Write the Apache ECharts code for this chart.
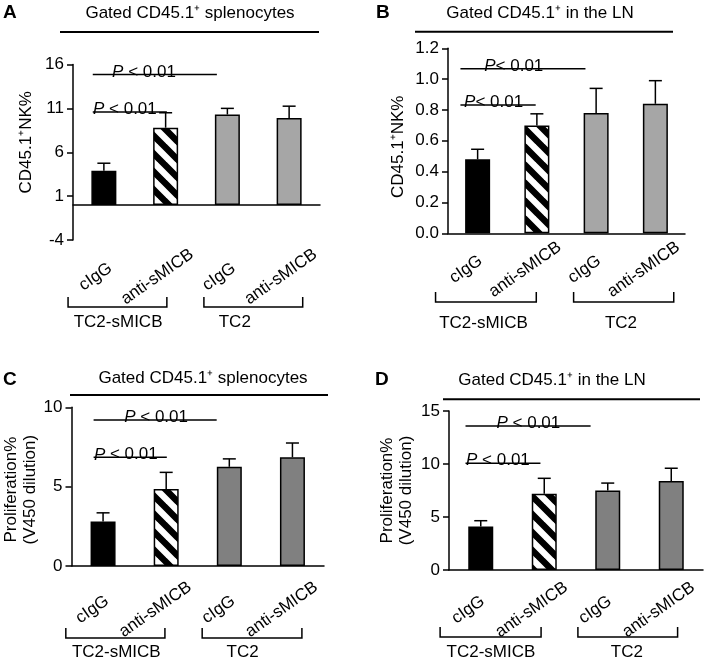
<!DOCTYPE html>
<html><head><meta charset="utf-8">
<script src="https://cdn.jsdelivr.net/npm/echarts@6/dist/echarts.min.js"></script>
<style>html,body{margin:0;padding:0;background:#fff}#c{width:705px;height:661px}</style>
</head><body><div id="c"></div>
<script>
// ---------------- DATA ----------------
const categories = ['cIgG', 'anti-sMICB', 'cIgG', 'anti-sMICB'];
const groupLabels = ['TC2-sMICB', 'TC2'];
const panelLetters = ['A', 'B', 'C', 'D'];
const panelTitles = ['Gated CD45.1⁺ splenocytes', 'Gated CD45.1⁺ in the LN', 'Gated CD45.1⁺ splenocytes', 'Gated CD45.1⁺ in the LN'];
const yNames = ['CD45.1⁺NK%', 'CD45.1⁺NK%', 'Proliferation%\n(V450 dilution)', 'Proliferation%\n(V450 dilution)'];
// Panel A
const meanA = [3.9, 8.8, 10.3, 9.9];
const errTopA = [4.75, 10.5, 11.0, 11.25];
const ticksA = [-4, 1, 6, 11, 16];
const pTextA = ['P < 0.01', 'P < 0.01'];
const pLevelA = [14.86, 10.6];
// Panel B
const meanB = [0.48, 0.70, 0.78, 0.84];
const errTopB = [0.545, 0.775, 0.94, 0.99];
const ticksB = [0, 0.2, 0.4, 0.6, 0.8, 1.0, 1.2];
const pTextB = ['P< 0.01', 'P< 0.01'];
const pLevelB = [1.067, 0.833];
// Panel C
const meanC = [2.8, 4.85, 6.25, 6.85];
const errTopC = [3.35, 5.9, 6.75, 7.75];
const ticksC = [0, 5, 10];
const pTextC = ['P < 0.01', 'P < 0.01'];
const pLevelC = [9.2, 6.85];
// Panel D
const meanD = [4.1, 7.2, 7.5, 8.4];
const errTopD = [4.65, 8.65, 8.2, 9.6];
const ticksD = [0, 5, 10, 15];
const pTextD = ['P < 0.01', 'P < 0.01'];
const pLevelD = [13.58, 10.07];

// ---------------- LAYOUT / STYLE ----------------
const FONT = '"Liberation Sans", Arial, Helvetica, sans-serif';
const FS = 17;
const GRAY_LIGHT = '#a6a6a6', GRAY_DARK = '#808080';
const panels = [
  {mean: meanA, err: errTopA, ticks: ticksA, dec: 0, gray: GRAY_LIGHT, pText: pTextA, pLevel: pLevelA,
   grid: {left: 73, top: 64.5, width: 247, height: 175.5}, nameGap: 37, namePad: [0, 0, 0, 20],
   lblMargin: 31, lblShift: -12.3,
   letterPos: [3, 3], titlePos: [190, 13], titleLine: [60, 319, 32],
   pSpan: [[-0.18, 1.83, 0.65], [-0.18, 1.02, 0.34]],
   brY: 307, brTextY: 322, brSpan: [[-0.58, 1.02, 0.23], [1.62, 3.22, 2.12]]},
  {mean: meanB, err: errTopB, ticks: ticksB, dec: 1, gray: GRAY_LIGHT, pText: pTextB, pLevel: pLevelB,
   grid: {left: 448, top: 48.3, width: 237, height: 185}, nameGap: 40, namePad: [0, 12, 0, 0],
   lblMargin: 28, lblShift: -17.3,
   letterPos: [376, 3], titlePos: [540, 13], titleLine: [415, 673, 31.7],
   pSpan: [[-0.29, 1.82, 0.61], [-0.29, 0.98, 0.27]],
   brY: 302, brTextY: 323, brSpan: [[-0.71, 0.99, 0.1], [1.62, 3.31, 2.42]]},
  {mean: meanC, err: errTopC, ticks: ticksC, dec: 0, gray: GRAY_DARK, pText: pTextC, pLevel: pLevelC,
   grid: {left: 71.5, top: 407.3, width: 252.5, height: 158.7}, nameGap: 30, namePad: [0, 6, 0, 0],
   lblMargin: 36, lblShift: -16,
   letterPos: [3, 370], titlePos: [203, 378], titleLine: [70, 328, 395],
   pSpan: [[-0.15, 1.80, 0.84], [-0.15, 1.01, 0.36]],
   brY: 638, brTextY: 652, brSpan: [[-0.59, 0.98, 0.21], [1.57, 3.15, 2.21]]},
  {mean: meanD, err: errTopD, ticks: ticksD, dec: 0, gray: GRAY_DARK, pText: pTextD, pLevel: pLevelD,
   grid: {left: 449, top: 411, width: 254, height: 159}, nameGap: 33, namePad: [0, 0, 0, 0],
   lblMargin: 31, lblShift: -18.7,
   letterPos: [375, 370], titlePos: [552, 380], titleLine: [443, 700, 399.3],
   pSpan: [[-0.24, 1.73, 0.75], [-0.24, 0.94, 0.27]],
   brY: 637, brTextY: 652, brSpan: [[-0.64, 0.95, 0.16], [1.53, 3.10, 2.30]]}
];

function hatchCanvas() {
  const s = 18;
  const c = document.createElement('canvas');
  c.width = c.height = s;
  const g = c.getContext('2d');
  g.fillStyle = '#fff'; g.fillRect(0, 0, s, s);
  g.strokeStyle = '#000'; g.lineWidth = 6.5;
  g.beginPath();
  for (let k = -1; k <= 1; k++) { g.moveTo(k * s - 2, -2); g.lineTo(k * s + s + 2, s + 2); }
  g.stroke();
  return c;
}
const HATCH = {image: hatchCanvas(), repeat: 'repeat'};

const chart = echarts.init(document.getElementById('c'), null, {renderer: 'canvas'});
const grids = [], xAxes = [], yAxes = [], series = [];
const A35 = 35 * Math.PI / 180;

panels.forEach((p, i) => {
  grids.push(Object.assign({containLabel: false}, p.grid));
  xAxes.push({
    gridIndex: i, type: 'category', data: categories,
    axisLine: {show: true, onZero: true, lineStyle: {color: '#000', width: 1.5}},
    axisTick: {show: false}, axisLabel: {show: false}, splitLine: {show: false}
  });
  const a = Math.abs(p.lblShift * Math.cos(A35)), b = Math.abs(p.lblShift * Math.sin(A35));
  xAxes.push({
    gridIndex: i, type: 'category', data: categories, position: 'bottom',
    axisLine: {show: false, onZero: false}, axisTick: {show: false}, splitLine: {show: false},
    axisLabel: {show: true, interval: 0, rotate: 35, align: 'center', verticalAlign: 'middle',
      margin: p.lblMargin, padding: [0, 2 * a, 2 * b, 0],
      fontSize: FS, color: '#000', fontFamily: FONT, hideOverlap: false}
  });
  const t = p.ticks;
  yAxes.push({
    gridIndex: i, type: 'value', min: t[0], max: t[t.length - 1], interval: t[1] - t[0],
    axisLine: {show: true, onZero: false, lineStyle: {color: '#000', width: 1.5}},
    axisTick: {show: true, length: 6, lineStyle: {color: '#000', width: 1.5}},
    axisLabel: {fontSize: FS, color: '#000', fontFamily: FONT, margin: 9,
      formatter: v => Number(v).toFixed(p.dec)},
    splitLine: {show: false},
    name: yNames[i], nameLocation: 'middle', nameGap: p.nameGap, nameRotate: 90,
    nameTextStyle: {fontSize: FS, color: '#000', fontFamily: FONT, lineHeight: 19, padding: p.namePad}
  });
  const fills = ['#000', HATCH, p.gray, p.gray];
  series.push({
    type: 'bar', xAxisIndex: 2 * i, yAxisIndex: i, barWidth: 25,
    data: p.mean.map((v, k) => ({value: v, itemStyle: {color: fills[k], borderColor: '#000', borderWidth: 1.5}})),
    silent: true
  });
  series.push({
    type: 'custom', xAxisIndex: 2 * i, yAxisIndex: i, z: 3, silent: true,
    data: p.mean.map((v, k) => [k, v, p.err[k]]),
    renderItem: (params, api) => {
      const base = api.coord([api.value(0), api.value(1)]);
      const top = api.coord([api.value(0), api.value(2)]);
      const st = {stroke: '#000', lineWidth: 1.5};
      return {type: 'group', children: [
        {type: 'line', shape: {x1: base[0], y1: base[1], x2: top[0], y2: top[1]}, style: st},
        {type: 'line', shape: {x1: top[0] - 6.5, y1: top[1], x2: top[0] + 6.5, y2: top[1]}, style: st}
      ]};
    }
  });
});

chart.setOption({
  animation: false, backgroundColor: '#fff',
  textStyle: {fontFamily: FONT},
  grid: grids, xAxis: xAxes, yAxis: yAxes, series: series
});

// ---------- annotations positioned from the axes ----------
function px(i, cat, v) {
  const a = chart.convertToPixel({xAxisIndex: 2 * i, yAxisIndex: i}, [0, v]);
  const b = chart.convertToPixel({xAxisIndex: 2 * i, yAxisIndex: i}, [1, v]);
  return [a[0] + (b[0] - a[0]) * cat, a[1]];
}
const g = [];
const lineStyle = w => ({stroke: '#000', lineWidth: w});
panels.forEach((p, i) => {
  g.push({type: 'text', style: {text: panelLetters[i], x: p.letterPos[0], y: p.letterPos[1],
    font: 'bold 19px ' + FONT, fill: '#000', verticalAlign: 'top'}});
  g.push({type: 'text', style: {text: panelTitles[i], x: p.titlePos[0], y: p.titlePos[1],
    font: FS + 'px ' + FONT, fill: '#000', align: 'center', verticalAlign: 'middle'}});
  const tl = p.titleLine;
  g.push({type: 'line', shape: {x1: tl[0], y1: tl[2], x2: tl[1], y2: tl[2]}, style: lineStyle(2)});
  p.pSpan.forEach((s, k) => {
    const l = px(i, s[0], p.pLevel[k]), r = px(i, s[1], p.pLevel[k]), c = px(i, s[2], p.pLevel[k]);
    g.push({type: 'line', shape: {x1: l[0], y1: l[1], x2: r[0], y2: r[1]}, style: lineStyle(1.5)});
    const txt = p.pText[k].replace(/^P/, '{i|P}');
    g.push({type: 'text', style: {text: txt, x: c[0], y: c[1] + 6, align: 'center', verticalAlign: 'bottom',
      font: FS + 'px ' + FONT, fill: '#000',
      rich: {i: {fontStyle: 'italic', fontSize: FS, fontFamily: FONT, fill: '#000'}}}});
  });
  p.brSpan.forEach((s, k) => {
    const l = px(i, s[0], 0)[0], r = px(i, s[1], 0)[0], c = px(i, s[2], 0)[0];
    g.push({type: 'polyline', shape: {points: [[l, p.brY - 10], [l, p.brY], [r, p.brY], [r, p.brY - 10]]},
      style: {stroke: '#000', lineWidth: 1.5, fill: null}});
    g.push({type: 'text', style: {text: groupLabels[k], x: c, y: p.brTextY, align: 'center', verticalAlign: 'middle',
      font: FS + 'px ' + FONT, fill: '#000'}});
  });
});
chart.setOption({graphic: g});
</script>
</body></html>
